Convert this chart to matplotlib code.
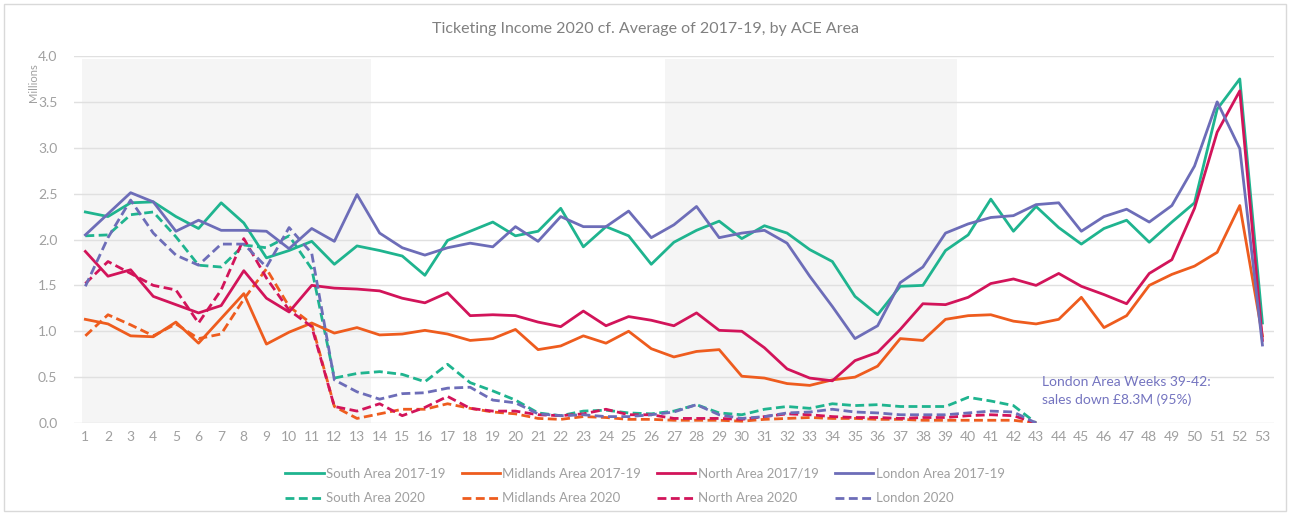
import matplotlib
matplotlib.use('Agg')
import matplotlib.pyplot as plt
from matplotlib.patches import Rectangle

plt.rcParams['font.family'] = ['Lato', 'DejaVu Sans']

weeks = list(range(1, 54))
weeks_2020 = list(range(1, 44))

south_1719 = [2.30, 2.25, 2.40, 2.41, 2.25, 2.12, 2.40, 2.18, 1.80, 1.88,
              1.98, 1.73, 1.93, 1.88, 1.82, 1.61, 1.99, 2.09, 2.19, 2.04,
              2.09, 2.34, 1.92, 2.14, 2.04, 1.73, 1.97, 2.10, 2.20, 2.01,
              2.15, 2.07, 1.89, 1.76, 1.38, 1.18, 1.49, 1.50, 1.88, 2.05,
              2.44, 2.09, 2.36, 2.13, 1.95, 2.12, 2.21, 1.97, 2.19, 2.40,
              3.42, 3.75, 1.09]
midlands_1719 = [1.13, 1.08, 0.95, 0.94, 1.10, 0.87, 1.14, 1.41, 0.86, 0.99,
                 1.09, 0.98, 1.04, 0.96, 0.97, 1.01, 0.97, 0.90, 0.92, 1.02,
                 0.80, 0.84, 0.95, 0.87, 1.00, 0.81, 0.72, 0.78, 0.80, 0.51,
                 0.49, 0.43, 0.41, 0.47, 0.50, 0.62, 0.92, 0.90, 1.13, 1.17,
                 1.18, 1.11, 1.08, 1.13, 1.37, 1.04, 1.17, 1.50, 1.62, 1.71,
                 1.86, 2.37, 0.95]
north_1719 = [1.87, 1.60, 1.67, 1.38, 1.29, 1.20, 1.28, 1.66, 1.36, 1.21,
              1.50, 1.47, 1.46, 1.44, 1.36, 1.31, 1.42, 1.17, 1.18, 1.17,
              1.10, 1.05, 1.22, 1.06, 1.16, 1.12, 1.06, 1.20, 1.01, 1.00,
              0.82, 0.59, 0.49, 0.46, 0.68, 0.77, 1.02, 1.30, 1.29, 1.37,
              1.52, 1.57, 1.50, 1.63, 1.49, 1.40, 1.30, 1.63, 1.78, 2.34,
              3.17, 3.62, 0.90]
london_1719 = [2.05, 2.28, 2.51, 2.41, 2.09, 2.21, 2.10, 2.10, 2.09, 1.90,
               2.12, 1.98, 2.49, 2.07, 1.91, 1.83, 1.91, 1.96, 1.92, 2.14,
               1.98, 2.25, 2.14, 2.14, 2.31, 2.02, 2.16, 2.36, 2.02, 2.07,
               2.10, 1.96, 1.60, 1.27, 0.92, 1.06, 1.53, 1.70, 2.07, 2.17,
               2.24, 2.26, 2.38, 2.40, 2.09, 2.25, 2.33, 2.19, 2.37, 2.80,
               3.50, 2.99, 0.85]

south_2020 = [2.04, 2.05, 2.27, 2.30, 2.03, 1.72, 1.70, 1.94, 1.91, 2.04,
              1.68, 0.49, 0.54, 0.56, 0.53, 0.45, 0.64, 0.44, 0.35, 0.25,
              0.11, 0.08, 0.13, 0.14, 0.11, 0.10, 0.13, 0.20, 0.11, 0.09,
              0.15, 0.18, 0.16, 0.21, 0.19, 0.20, 0.18, 0.18, 0.18, 0.28,
              0.24, 0.19, 0.0]
midlands_2020 = [0.95, 1.18, 1.07, 0.95, 1.08, 0.92, 0.97, 1.35, 1.68, 1.27,
                 1.08, 0.18, 0.05, 0.10, 0.15, 0.15, 0.21, 0.16, 0.12, 0.10,
                 0.05, 0.04, 0.07, 0.06, 0.04, 0.04, 0.03, 0.03, 0.03, 0.02,
                 0.04, 0.05, 0.06, 0.05, 0.05, 0.04, 0.04, 0.03, 0.03, 0.03,
                 0.03, 0.03, 0.0]
north_2020 = [1.52, 1.76, 1.63, 1.50, 1.45, 1.09, 1.45, 2.01, 1.58, 1.23,
              1.05, 0.18, 0.13, 0.21, 0.08, 0.17, 0.29, 0.16, 0.13, 0.13,
              0.09, 0.08, 0.10, 0.15, 0.09, 0.09, 0.05, 0.05, 0.05, 0.04,
              0.07, 0.10, 0.09, 0.07, 0.06, 0.06, 0.05, 0.06, 0.06, 0.08,
              0.09, 0.08, 0.0]
london_2020 = [1.49, 2.02, 2.43, 2.07, 1.83, 1.72, 1.95, 1.95, 1.70, 2.13,
               1.85, 0.47, 0.34, 0.26, 0.32, 0.33, 0.38, 0.39, 0.25, 0.22,
               0.10, 0.08, 0.09, 0.07, 0.07, 0.09, 0.12, 0.20, 0.09, 0.05,
               0.07, 0.11, 0.12, 0.15, 0.12, 0.11, 0.09, 0.09, 0.09, 0.11,
               0.13, 0.12, 0.0]

# lockdown periods (weeks), shaded
lockdowns = [(0.87, 13.6), (26.6, 39.5)]

teal = '#1fb48f'
orange = '#ee5c1e'
crimson = '#d2145a'
purple = '#6d6db8'
grey_txt = '#a0a0a0'

fig = plt.figure(figsize=(12.9, 5.15), dpi=100)
fig.patches.append(Rectangle((0.003, 0.008), 0.994, 0.985, transform=fig.transFigure,
                             fill=False, edgecolor='#d9d9d9', linewidth=1.0))

ax = fig.add_axes([0.0574, 0.1786, 0.93, 0.7127])

for a, b in lockdowns:
    ax.axvspan(a, b, ymin=0, ymax=0.992, color='#f5f5f5', lw=0, zorder=0)

lw = 2.0
dash = (3.2, 1.6)
h = []
h += ax.plot(weeks, south_1719, color=teal, lw=lw, label='South Area 2017-19')
h += ax.plot(weeks_2020, south_2020, color=teal, lw=lw, dashes=dash, label='South Area 2020')
h += ax.plot(weeks, midlands_1719, color=orange, lw=lw, label='Midlands Area 2017-19')
h += ax.plot(weeks_2020, midlands_2020, color=orange, lw=lw, dashes=dash, label='Midlands Area 2020')
h += ax.plot(weeks, north_1719, color=crimson, lw=lw, label='North Area 2017/19')
h += ax.plot(weeks_2020, north_2020, color=crimson, lw=lw, dashes=dash, label='North Area 2020')
h += ax.plot(weeks, london_1719, color=purple, lw=lw, label='London Area 2017-19')
h += ax.plot(weeks_2020, london_2020, color=purple, lw=lw, dashes=dash, label='London 2020')

ax.set_xlim(0.5, 53.5)
ax.set_ylim(0, 4)
ax.set_xticks(weeks)
ax.set_yticks([0, 0.5, 1, 1.5, 2, 2.5, 3, 3.5, 4])
ax.set_yticklabels(['%.1f' % v for v in ax.get_yticks()])
ax.grid(axis='y', color='#e0e0e0', lw=1)
ax.set_axisbelow(True)
for s in ax.spines.values():
    s.set_visible(False)
ax.tick_params(length=0, colors=grey_txt, labelsize=10)
ax.tick_params(axis='x', pad=6)
ax.tick_params(axis='y', pad=12)

fig.text(0.026, 0.84, 'Millions', rotation=90, color=grey_txt, fontsize=8, ha='center', va='center')
fig.text(0.5, 0.943, 'Ticketing Income 2020 cf. Average of 2017-19, by ACE Area',
         color='#808080', fontsize=11.5, ha='center', va='center')

ax.text(43.25, 0.35, 'London Area Weeks 39-42:\nsales down £8.3M (95%)',
        color='#7474c0', fontsize=10, ha='left', va='center', linespacing=1.5)

fig.legend(handles=h, loc='center', bbox_to_anchor=(0.5, 0.056), ncol=4,
           frameon=False, fontsize=9.5, labelcolor=grey_txt, handlelength=2.9,
           handletextpad=0.2, columnspacing=1.2, labelspacing=0.95)

fig.savefig('out.png', dpi=100)
